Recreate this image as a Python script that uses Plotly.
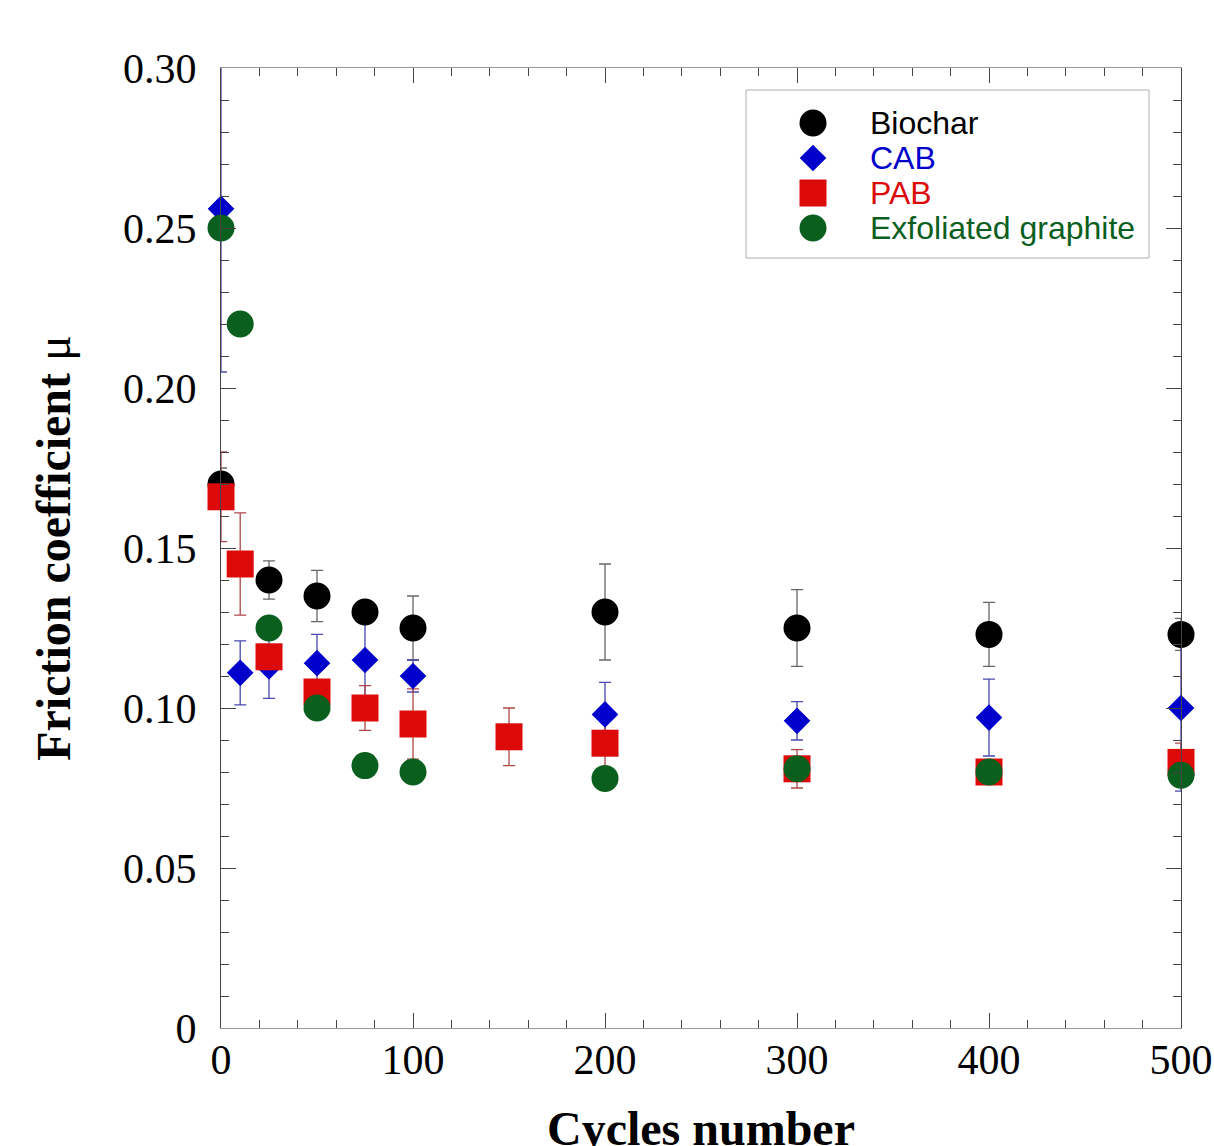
import plotly.graph_objects as go

# ---------------- data ----------------
series_names = ["Biochar", "CAB", "PAB", "Exfoliated graphite"]

cycles_biochar = [0, 25, 50, 75, 100, 200, 300, 400, 500]
mu_biochar = [0.170, 0.140, 0.135, 0.130, 0.125, 0.130, 0.125, 0.123, 0.123]
err_biochar = [0.005, 0.006, 0.008, 0.0, 0.010, 0.015, 0.012, 0.010, 0.005]

cycles_cab = [0, 10, 25, 50, 75, 100, 200, 300, 400, 500]
mu_cab = [0.256, 0.111, 0.113, 0.114, 0.115, 0.110, 0.098, 0.096, 0.097, 0.100]
err_cab = [0.051, 0.010, 0.010, 0.009, 0.012, 0.005, 0.010, 0.006, 0.012, 0.026]

cycles_pab = [0, 10, 25, 50, 75, 100, 150, 200, 300, 400, 500]
mu_pab = [0.166, 0.145, 0.116, 0.105, 0.100, 0.095, 0.091, 0.089, 0.081, 0.080, 0.083]
err_pab = [0.014, 0.016, 0.0, 0.0, 0.007, 0.011, 0.009, 0.008, 0.006, 0.003, 0.006]

cycles_eg = [0, 10, 25, 50, 75, 100, 200, 300, 400, 500]
mu_eg = [0.250, 0.220, 0.125, 0.100, 0.082, 0.080, 0.078, 0.081, 0.080, 0.079]

x_tickvals = [0, 100, 200, 300, 400, 500]
x_ticktext = ["0", "100", "200", "300", "400", "500"]
y_tickvals = [0, 0.05, 0.10, 0.15, 0.20, 0.25, 0.30]
y_ticktext = ["0", "0.05", "0.10", "0.15", "0.20", "0.25", "0.30"]

x_title = "<b>Cycles number</b>"
y_title = "<b>Friction coefficient</b> μ"

# ---------------- styles ----------------
colors = ["#000000", "#0000CC", "#DD0A0A", "#0A5E1E"]
err_colors = ["#666666", "#4848B0", "#B04848", None]
symbols = ["circle", "diamond", "square", "circle"]
sizes = [27, 20.5, 27, 27]

data = [
    (cycles_biochar, mu_biochar, err_biochar),
    (cycles_cab, mu_cab, err_cab),
    (cycles_pab, mu_pab, err_pab),
    (cycles_eg, mu_eg, None),
]

fig = go.Figure()

# error bars first (clipped to the plot area), below all markers
for (xs, ys, es), ec in zip(data, err_colors):
    if es is None:
        continue
    fig.add_trace(go.Scatter(
        x=xs, y=ys, mode="markers",
        marker=dict(size=1, opacity=0),
        error_y=dict(type="data", array=es, visible=True,
                     color=ec, thickness=1.3, width=6),
        showlegend=False, hoverinfo="skip", cliponaxis=True,
    ))

# markers
for (xs, ys, es), name, c, s, sz in zip(data, series_names, colors, symbols, sizes):
    fig.add_trace(go.Scatter(
        x=xs, y=ys, mode="markers", name=name,
        marker=dict(color=c, symbol=s, size=sz, line=dict(width=0)),
        showlegend=False, cliponaxis=False,
    ))

# ---------------- layout geometry ----------------
FIG_W, FIG_H = 1214, 1146
L, T, W, H = 221, 68, 960, 960  # plot area in page pixels


def px(xp):
    return (xp - L) / W


def py(yp):
    return (T + H - yp) / H


shapes = [dict(type="rect", xref="paper", yref="paper",
               x0=px(746), x1=px(1149), y0=py(258), y1=py(90),
               line=dict(color="#B0B0B0", width=1), fillcolor="white", layer="above")]
annotations = []
row_y = [123, 158, 193, 228]
mx = px(813)
for name, c, s, sz, ry in zip(series_names, colors, symbols, sizes, row_y):
    yy = py(ry)
    if s == "circle":
        shapes.append(dict(type="circle", xref="paper", yref="paper",
                           xsizemode="pixel", ysizemode="pixel",
                           xanchor=mx, yanchor=yy, x0=-13.5, x1=13.5, y0=-13.5, y1=13.5,
                           fillcolor=c, line=dict(width=0), layer="above"))
    elif s == "square":
        shapes.append(dict(type="rect", xref="paper", yref="paper",
                           xsizemode="pixel", ysizemode="pixel",
                           xanchor=mx, yanchor=yy, x0=-13.5, x1=13.5, y0=-13.5, y1=13.5,
                           fillcolor=c, line=dict(width=0), layer="above"))
    else:
        d = 13.3
        shapes.append(dict(type="path", xref="paper", yref="paper",
                           xsizemode="pixel", ysizemode="pixel",
                           xanchor=mx, yanchor=yy,
                           path=f"M 0,{-d} L {d},0 L 0,{d} L {-d},0 Z",
                           fillcolor=c, line=dict(width=0), layer="above"))
    annotations.append(dict(xref="paper", yref="paper", x=px(868), y=yy,
                            xanchor="left", yanchor="middle", showarrow=False,
                            text=name,
                            font=dict(family="Liberation Sans, Arial", size=32, color=c)))

# x axis title as an annotation so it can sit partly below the page edge
annotations.append(dict(xref="paper", yref="paper", x=0.5, y=py(1128),
                        xanchor="center", yanchor="middle", showarrow=False,
                        text=x_title,
                        font=dict(family="Liberation Serif, Times New Roman", size=48, color="black")))

axis_common = dict(
    ticks="inside", mirror="ticks", showline=True, linewidth=1,
    showgrid=False, zeroline=False, tickwidth=1, ticklen=15,
    tickcolor="#444444",
    tickfont=dict(family="Liberation Serif, Times New Roman", size=42, color="black"),
)

fig.update_layout(
    width=FIG_W, height=FIG_H,
    margin=dict(l=L, r=FIG_W - L - W, t=T, b=FIG_H - T - H, autoexpand=False),
    plot_bgcolor="white", paper_bgcolor="white",
    showlegend=False,
    shapes=shapes, annotations=annotations,
    xaxis=dict(
        range=[0, 500], tickvals=x_tickvals, ticktext=x_ticktext,
        linecolor="#999999",
        minor=dict(ticks="inside", dtick=20, tick0=0, ticklen=8, tickcolor="#444444", tickwidth=1),
        ticklabelstandoff=-5,
        automargin=False,
        **axis_common,
    ),
    yaxis=dict(
        range=[0, 0.30], tickvals=y_tickvals, ticktext=y_ticktext,
        linecolor="#444444",
        minor=dict(ticks="inside", dtick=0.01, tick0=0, ticklen=8, tickcolor="#444444", tickwidth=1),
        ticklabelstandoff=15,
        title=dict(text=y_title, standoff=37,
                   font=dict(family="Liberation Serif, Times New Roman", size=48, color="black")),
        automargin=False,
        **axis_common,
    ),
)

fig.write_html(
    "out.html",
    config={"displayModeBar": False},
    post_script="document.body.style.margin='0px';document.body.style.overflow='hidden';",
)
